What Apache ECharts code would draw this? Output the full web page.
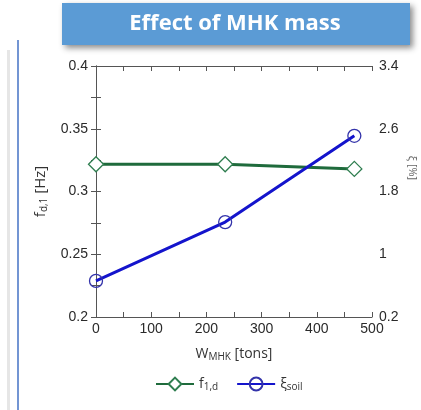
<!DOCTYPE html>
<html><head><meta charset="utf-8">
<script src="https://cdn.jsdelivr.net/npm/echarts@6/dist/echarts.min.js"></script>
<style>html,body{margin:0;padding:0;background:#fff}#c{width:421px;height:410px}</style>
</head><body><div id="c"></div>
<script>
var titleText = 'Effect of MHK mass';
var massTons = [0, 234, 468];
var freqHz = [0.3217, 0.3217, 0.318];
var dampingPct = [0.66, 1.41, 2.51];
var xLabelValues = [0, 100, 200, 300, 400, 500];
var leftLabelValues = [0.2, 0.25, 0.3, 0.35, 0.4];
var rightTickValues = [0.2, 0.6, 1, 1.4, 1.8, 2.2, 2.6, 3.0, 3.4];
var rightLabelValues = [0.2, 1, 1.8, 2.6, 3.4];

var chart = echarts.init(document.getElementById('c'), null, {renderer: 'canvas'});
var green = '#1f6b3c', blue = '#1414cc';
var labelFont = {fontFamily: 'Liberation Sans', fontSize: 14, color: '#2a2a2a'};
var nameFont = 'Open Sans';
var axisLineStyle = {show: true, lineStyle: {color: '#555', width: 1}};
function tick(extra) {
  return Object.assign({show: true, inside: true, length: 5, lineStyle: {color: '#555'}}, extra || {});
}

chart.setOption({
  animation: false,
  graphic: [
    {type: 'rect', shape: {x: 62, y: 3, width: 348, height: 42},
     style: {fill: '#5b9bd5', shadowBlur: 6, shadowColor: 'rgba(0,0,0,0.45)', shadowOffsetX: 3, shadowOffsetY: 3}},
    {type: 'text', x: 235, y: 24, style: {text: titleText, fill: '#fff', font: 'bold 22px "Open Sans"', align: 'center', verticalAlign: 'middle'}},
    {type: 'line', shape: {x1: 18, y1: 40, x2: 18, y2: 410}, style: {stroke: '#4472c4', lineWidth: 1.5}},
    {type: 'rect', shape: {x: 7, y: 50, width: 3, height: 360}, style: {fill: '#e6e6e6'}},
    {type: 'text', x: 412, y: 168, rotation: -Math.PI / 2,
     style: {text: 'ξ [%]', fill: '#666', font: '11px "Open Sans"', align: 'center', verticalAlign: 'middle'}}
  ],
  grid: {left: 96, right: 49, top: 66, bottom: 93},
  legend: {
    bottom: 13, left: 150, itemWidth: 38, itemHeight: 16, itemGap: 18,
    data: ['f', 'xi'],
    formatter: function (n) { return n === 'f' ? '{a|f}{s|1,d}' : '{a|ξ}{s|soil}'; },
    textStyle: {
      color: '#333',
      rich: {
        a: {fontFamily: nameFont, fontSize: 14, color: '#333', lineHeight: 20},
        s: {fontFamily: nameFont, fontSize: 10, color: '#333', lineHeight: 20, padding: [6, 0, 0, 0]}
      }
    }
  },
  xAxis: [{
    type: 'value', min: 0, max: 500, interval: 50, position: 'bottom',
    name: '{a|W}{s|MHK}{a| [tons]}', nameLocation: 'middle', nameGap: 27,
    nameTextStyle: {rich: {
      a: {fontFamily: nameFont, fontSize: 14, color: '#333', lineHeight: 20},
      s: {fontFamily: nameFont, fontSize: 10, color: '#333', lineHeight: 20, padding: [6, 0, 0, 0]}
    }},
    axisLine: axisLineStyle,
    axisTick: tick(),
    axisLabel: Object.assign({customValues: xLabelValues, margin: 5}, labelFont),
    splitLine: {show: false}
  }, {
    type: 'value', min: 0, max: 500, interval: 50, position: 'top',
    axisLine: axisLineStyle,
    axisTick: tick(),
    axisLabel: {show: false}, splitLine: {show: false}
  }],
  yAxis: [{
    type: 'value', min: 0.2, max: 0.4, interval: 0.025, position: 'left',
    name: '{a|f}{s|d,1}{a| [Hz]}', nameLocation: 'middle', nameGap: 45,
    nameTextStyle: {rich: {
      a: {fontFamily: nameFont, fontSize: 15, color: '#333', lineHeight: 20},
      s: {fontFamily: nameFont, fontSize: 10, color: '#333', lineHeight: 20, padding: [6, 0, 0, 0]}
    }},
    axisLine: axisLineStyle,
    axisTick: tick(),
    axisLabel: Object.assign({customValues: leftLabelValues, margin: 8}, labelFont),
    splitLine: {show: false}
  }, {
    type: 'value', min: 0.2, max: 3.4, position: 'right',
    axisLine: axisLineStyle,
    axisTick: tick({customValues: rightTickValues}),
    axisLabel: Object.assign({customValues: rightLabelValues, margin: 7}, labelFont),
    splitLine: {show: false}
  }],
  series: [{
    name: 'f', type: 'line', xAxisIndex: 0, yAxisIndex: 0,
    data: massTons.map(function (x, i) { return [x, freqHz[i]]; }),
    lineStyle: {color: green, width: 3},
    symbol: 'diamond', symbolSize: [15, 15], showAllSymbol: true,
    itemStyle: {color: '#fff', borderColor: '#2e7d4f', borderWidth: 1.3},
    z: 3
  }, {
    name: 'xi', type: 'line', xAxisIndex: 0, yAxisIndex: 1,
    data: massTons.map(function (x, i) { return [x, dampingPct[i]]; }),
    lineStyle: {color: blue, width: 3},
    symbol: 'circle', symbolSize: 13, showAllSymbol: true,
    itemStyle: {color: 'rgba(255,255,255,0)', borderColor: '#3333aa', borderWidth: 1.3},
    z: 4
  }]
});
</script></body></html>
